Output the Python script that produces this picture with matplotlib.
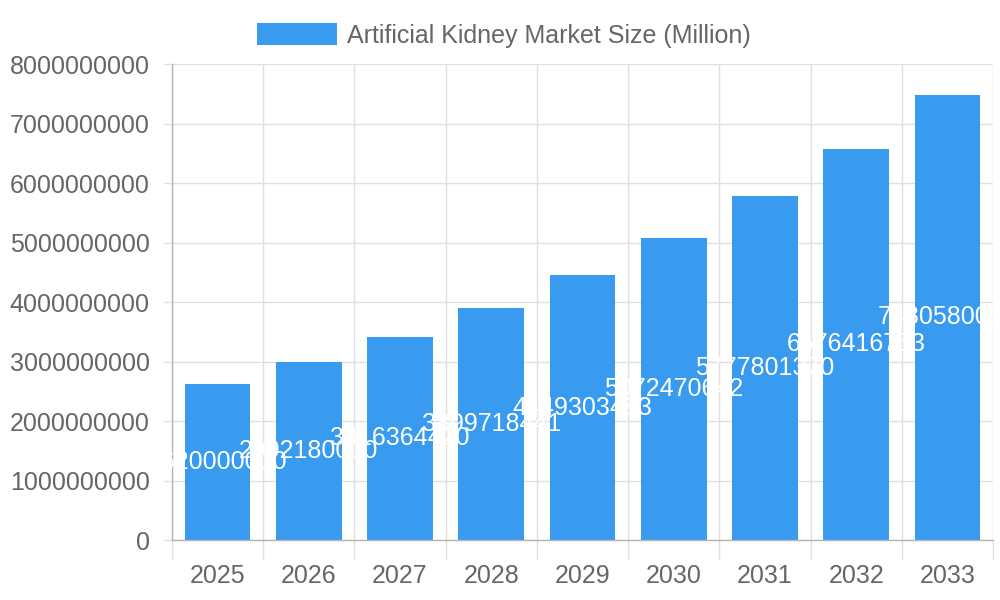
import matplotlib.pyplot as plt
import numpy as np
from matplotlib.ticker import FixedLocator

years = ['2025', '2026', '2027', '2028', '2029', '2030', '2031', '2032', '2033']
market_size = [2620000000, 2992180000, 3416364420, 3899718441, 4449303483,
               5072470642, 5777801370, 6576416753, 7480580000]
y_ticks = [0, 1000000000, 2000000000, 3000000000, 4000000000,
           5000000000, 6000000000, 7000000000, 8000000000]
series_name = 'Artificial Kidney Market Size (Million)'

plt.rcParams['font.family'] = ['Liberation Sans', 'DejaVu Sans']
text_color = '#666666'
grid_color = '#e0e0e0'
axis_color = '#b4b4b4'
bar_color = '#389bf0'
fs = 18

fig = plt.figure(figsize=(10, 6), dpi=100)
ax = fig.add_axes([0.172, 0.1, 0.821, 0.7933])

x = np.arange(len(years))
bars = ax.bar(x, market_size, width=0.72, color=bar_color, label=series_name, zorder=2)

# value labels in the middle of each bar
for xi, v in zip(x, market_size):
    ax.text(xi, v / 2, str(v), color='white', fontsize=fs, ha='center', va='center',
            zorder=3, clip_on=False)

ax.set_xlim(-0.5, len(years) - 0.5)
ax.set_ylim(0, 8000000000)
ax.yaxis.set_major_locator(FixedLocator(y_ticks))
ax.set_yticklabels([str(t) for t in y_ticks])
ax.set_xticks(x)
ax.set_xticklabels(years)
ax.xaxis.set_minor_locator(FixedLocator(np.arange(-0.5, len(years), 1.0)))

ax.tick_params(axis='x', which='major', length=0, pad=17, labelsize=fs, labelcolor=text_color)
ax.tick_params(axis='x', which='minor', length=14.4, width=1, color=grid_color)
ax.tick_params(axis='y', length=6, width=1, color=grid_color, pad=10, labelsize=fs,
               labelcolor=text_color)

ax.grid(True, axis='y', color=grid_color, linewidth=1, zorder=0)
ax.grid(True, axis='x', which='minor', color=grid_color, linewidth=1, zorder=0)
ax.set_axisbelow(True)

for side in ['top', 'right']:
    ax.spines[side].set_visible(False)
for side in ['left', 'bottom']:
    ax.spines[side].set_color(axis_color)
    ax.spines[side].set_linewidth(1)

leg = ax.legend(loc='lower center', bbox_to_anchor=(0.404, 1.0), frameon=False,
                fontsize=fs, handlelength=3.2, handleheight=1.0, handletextpad=0.4,
                borderaxespad=0.25)
for t in leg.get_texts():
    t.set_color(text_color)

plt.savefig('out.png', dpi=100)
